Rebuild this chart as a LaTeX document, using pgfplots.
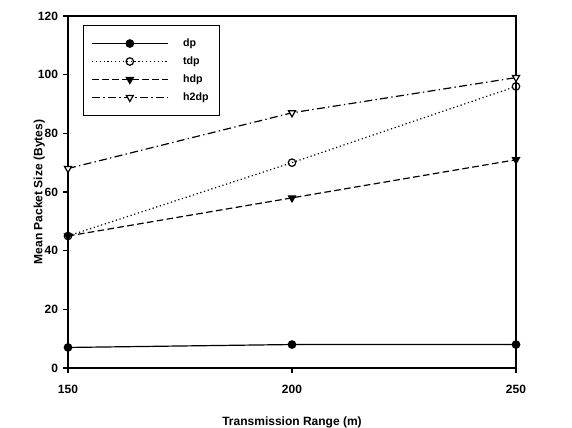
\documentclass[border=0pt]{standalone}
\usepackage{fontspec}
\setmainfont{Liberation Sans}
\usepackage{pgfplots}
\pgfplotsset{compat=1.18}
\begin{document}
\begin{tikzpicture}
\begin{axis}[
  name=ax,
  at={(0,0)}, anchor=south west,
  scale only axis, width=336pt, height=264pt,
  xmin=150, xmax=250, ymin=0, ymax=120,
  xtick={150,200,250}, ytick={0,20,40,60,80,100,120},
  tick align=outside, xtick pos=left, ytick pos=left,
  axis line style={line width=1.1pt},
  major tick style={line width=0.8pt, black},
  major tick length=4pt,
  font=\fontsize{9}{11}\selectfont\bfseries,
  /pgf/number format/assume math mode=true,
  /pgf/number format/1000 sep={},
  xticklabel style={yshift=-5pt},
  xlabel={Transmission Range (m)},
  ylabel={Mean Packet Size (Bytes)},
  xlabel style={yshift=-11pt},
  ylabel style={yshift=-12pt},
  legend style={at={(0.033,0.975)}, anchor=north west, draw=black, line width=0.8pt,
    font=\fontsize{8}{10}\selectfont\bfseries, row sep=2.2pt, inner xsep=6pt, inner ysep=8pt},
  legend cell align=left,
  legend image code/.code={\draw[mark repeat=2,mark phase=2] plot coordinates {(0cm,0cm) (1cm,0cm) (2cm,0cm)};},
  every axis plot/.append style={black, line width=0.9pt},
]
\addplot[solid, mark=*, mark size=2.8pt, mark options={solid, fill=black}] coordinates {(150,7) (200,8) (250,8)};
\addlegendentry{\hspace*{9pt}dp}
\addplot[dotted, mark=o, mark size=2.8pt, mark options={solid, fill=white}] coordinates {(150,45) (200,70) (250,96)};
\addlegendentry{\hspace*{9pt}tdp}
\addplot[dash pattern=on 5pt off 2.5pt, mark=triangle*, mark size=3pt, mark options={solid, rotate=180, fill=black}] coordinates {(150,45) (200,58) (250,71)};
\addlegendentry{\hspace*{9pt}hdp}
\addplot[dash pattern=on 6pt off 2.5pt on 1pt off 2.5pt, mark=triangle*, mark size=3pt, mark options={solid, rotate=180, fill=white}] coordinates {(150,68) (200,87) (250,99)};
\addlegendentry{\hspace*{9pt}h2dp}
\end{axis}
\pgfresetboundingbox
\path[use as bounding box] (-51pt,-45pt) rectangle (378pt,276pt);
\end{tikzpicture}
\end{document}
